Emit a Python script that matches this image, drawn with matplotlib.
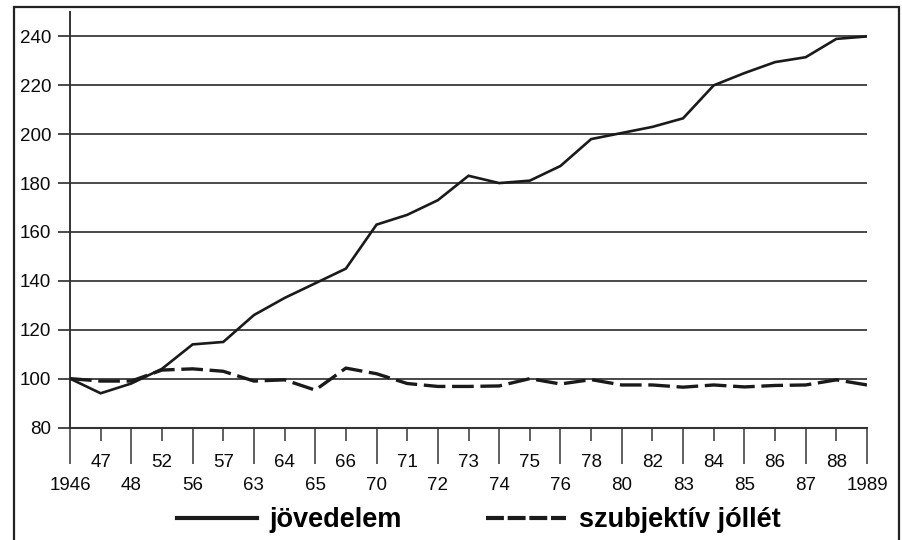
import matplotlib
matplotlib.use("Agg")
import matplotlib.pyplot as plt
from matplotlib.patches import Rectangle
from matplotlib.lines import Line2D

years = ["1946", "47", "48", "52", "56", "57", "63", "64", "65", "66", "70", "71",
         "72", "73", "74", "75", "76", "78", "80", "82", "83", "84", "85", "86",
         "87", "88", "1989"]
jovedelem = [100, 94, 98, 104, 114, 115, 126, 133, 139, 145, 163, 167,
             173, 183, 180, 181, 187, 198, 200.5, 203, 206.5, 220, 225, 229.5,
             231.5, 239, 240]
jollet = [100, 99, 99, 103.5, 104, 103, 99, 99.5, 95.3, 104.3, 102, 98,
          96.8, 96.8, 97, 100, 97.8, 99.6, 97.4, 97.4, 96.5, 97.4, 96.6, 97.2,
          97.4, 99.5, 97.4]
yticks = [80, 100, 120, 140, 160, 180, 200, 220, 240]

plt.rcParams['font.family'] = ['Liberation Sans', 'DejaVu Sans']

W, H = 903, 540
fig = plt.figure(figsize=(W / 100, H / 100), dpi=100)
fig.patch.set_facecolor('white')

x0, x1 = 70, 867
yb, yt = 427.5, 12
ax = fig.add_axes([x0 / W, 1 - yb / H, (x1 - x0) / W, (yb - yt) / H])
ax.set_xlim(0, len(years) - 1)
ax.set_ylim(80, 250)

ink = '#1a1a1a'
xs = list(range(len(years)))

for v in yticks[1:]:
    ax.axhline(v, color='#3a3a3a', lw=1.3, zorder=1)

ax.plot(xs, jovedelem, color=ink, lw=1.9, zorder=3, label='jövedelem',
        solid_joinstyle='miter')
ax.plot(xs, jollet, color=ink, lw=2.4, ls=(0, (6.5, 2.0)), zorder=3,
        label='szubjektív jóllét')

for s in ['top', 'right']:
    ax.spines[s].set_visible(False)
ax.spines['left'].set_color('#333333')
ax.spines['left'].set_linewidth(1.4)
ax.spines['bottom'].set_color('#333333')
ax.spines['bottom'].set_linewidth(1.5)

ax.set_yticks(yticks)
ax.set_yticklabels([str(v) for v in yticks])
ax.tick_params(axis='y', length=8.6, width=1.3, color='#3a3a3a', pad=5,
               labelsize=13.5, labelcolor='#0a0a0a')

major = xs[0::2]
minor = xs[1::2]
ax.set_xticks(major)
ax.set_xticklabels([years[i] for i in major])
ax.set_xticks(minor, minor=True)
ax.set_xticklabels([years[i] for i in minor], minor=True)
ax.tick_params(axis='x', which='major', length=26, width=1.2, color='#444444',
               pad=9.4, labelsize=13.5, labelcolor='#0a0a0a')
ax.tick_params(axis='x', which='minor', length=9.4, width=1.2, color='#444444',
               pad=9.4, labelsize=13.5, labelcolor='#0a0a0a')

# legend
h1 = Line2D([], [], color=ink, lw=3.0)
h2 = Line2D([], [], color=ink, lw=3.0, ls=(0, (4.3, 0.9)))
leg = fig.legend([h1, h2], ['jövedelem', 'szubjektív jóllét'], ncol=2,
                 frameon=False, loc='center left',
                 bbox_to_anchor=(177 / W, 1 - 520 / H),
                 prop={'weight': 'bold', 'size': 19.5},
                 handlelength=2.95, handletextpad=0.48, columnspacing=3.1,
                 borderpad=0, borderaxespad=0)

# outer frame
fig.patches.append(Rectangle((14 / W, -0.05), (899 - 14) / W, 1.05 - 7 / H,
                             transform=fig.transFigure, fill=False,
                             edgecolor='#222222', lw=1.6))

fig.savefig('out.png', dpi=100, facecolor='white')
